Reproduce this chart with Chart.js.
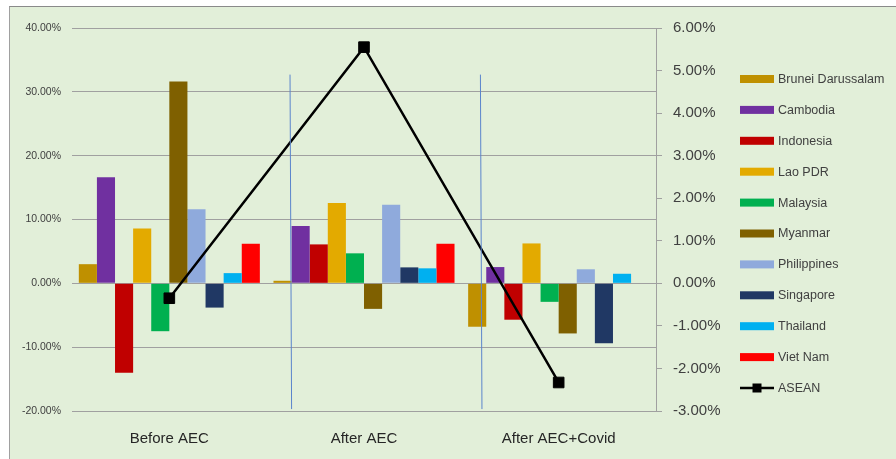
<!DOCTYPE html>
<html>
<head>
<meta charset="utf-8">
<script src="https://cdn.jsdelivr.net/npm/chart.js@4/dist/chart.umd.min.js"></script>
<style>
  html, body { margin: 0; padding: 0; background: #ffffff; }
  #frame {
    position: absolute; left: 9px; top: 6px;
    width: 886px; height: 452px;
    border-top: 1px solid #8a8a8a; border-left: 1px solid #a0a0a0;
    background: #e2efd9;
  }
  canvas { display: block; }
</style>
</head>
<body>
<div id="frame"><canvas id="c" width="886" height="452"></canvas></div>
<script>
// Growth rates by period (%), left axis
const categories = ['Before AEC', 'After AEC', 'After AEC+Covid'];
const brunei      = [3.0, 0.4, -6.8];
const cambodia    = [16.6, 9.0, 2.55];
const indonesia   = [-14.0, 6.1, -5.7];
const laoPdr      = [8.6, 12.6, 6.25];
const malaysia    = [-7.5, 4.7, -2.9];
const myanmar     = [31.6, -4.0, -7.85];
const philippines = [11.6, 12.3, 2.2];
const singapore   = [-3.8, 2.5, -9.4];
const thailand    = [1.6, 2.35, 1.5];
const vietNam     = [6.2, 6.2, null];
// ASEAN aggregate (%), right axis
const asean       = [-0.35, 5.55, -2.33];

// Tick settings
const leftTicks  = { min: -20, max: 40, step: 10 };
const rightTicks = { min: -3, max: 6, step: 1 };

// Period separators (category-scale position at top/bottom, left-axis value range)
const dividerX = [[0.62, 0.628], [1.598, 1.606]];
const dividerY = [32.7, -19.7];

const countries = [
  ['Brunei Darussalam', brunei, '#bf9000'],
  ['Cambodia', cambodia, '#7030a0'],
  ['Indonesia', indonesia, '#c00000'],
  ['Lao PDR', laoPdr, '#e3aa00'],
  ['Malaysia', malaysia, '#00b050'],
  ['Myanmar', myanmar, '#7f6000'],
  ['Philippines', philippines, '#8faadc'],
  ['Singapore', singapore, '#203864'],
  ['Thailand', thailand, '#00b0f0'],
  ['Viet Nam', vietNam, '#ff0000']
];

const datasets = countries.map(([label, data, color]) => ({
  type: 'bar', label, data, backgroundColor: color, borderWidth: 0,
  yAxisID: 'y', order: 1, categoryPercentage: 0.93, barPercentage: 1.0
}));
datasets.push({
  type: 'line', label: 'ASEAN', data: asean, yAxisID: 'y1', order: 0,
  borderColor: '#000000', borderWidth: 2.5, backgroundColor: '#000000',
  pointStyle: 'rect', pointRadius: 7.5, pointBorderWidth: 1, pointBorderColor: '#000000',
  tension: 0, fill: false
});

const textColor = '#404040';

// Thin separator lines between periods
const dividerPlugin = {
  id: 'dividers',
  afterDatasetsDraw(chart) {
    const { ctx, scales } = chart;
    ctx.save();
    ctx.strokeStyle = '#5a84cc';
    ctx.lineWidth = 1;
    dividerX.forEach(([xt, xb]) => {
      ctx.beginPath();
      ctx.moveTo(scales.x.getPixelForValue(xt), scales.y.getPixelForValue(dividerY[0]));
      ctx.lineTo(scales.x.getPixelForValue(xb), scales.y.getPixelForValue(dividerY[1]));
      ctx.stroke();
    });
    ctx.restore();
  }
};

// Legend at the right, one entry per row
const sideLegend = {
  id: 'sideLegend',
  afterDraw(chart) {
    const { ctx } = chart;
    const x0 = 730, boxW = 34, boxH = 8, y0 = 72, step = 30.9;
    ctx.save();
    ctx.font = '12.5px "Liberation Sans", Arial, sans-serif';
    ctx.textBaseline = 'middle';
    ctx.textAlign = 'left';
    chart.data.datasets.forEach((ds, i) => {
      const y = y0 + i * step;
      if (ds.type === 'line') {
        ctx.strokeStyle = ds.borderColor;
        ctx.lineWidth = 2.5;
        ctx.beginPath();
        ctx.moveTo(x0, y); ctx.lineTo(x0 + boxW, y);
        ctx.stroke();
        ctx.fillStyle = ds.backgroundColor;
        ctx.fillRect(x0 + boxW / 2 - 4.5, y - 4.5, 9, 9);
      } else {
        ctx.fillStyle = ds.backgroundColor;
        ctx.fillRect(x0, y - boxH / 2, boxW, boxH);
      }
      ctx.fillStyle = textColor;
      ctx.fillText(ds.label, x0 + boxW + 4, y + 0.5);
    });
    ctx.restore();
  }
};

new Chart(document.getElementById('c'), {
  data: { labels: categories, datasets },
  options: {
    responsive: false,
    animation: false,
    layout: { padding: { left: 0, right: 165, top: 21, bottom: 0 } },
    plugins: { legend: { display: false }, tooltip: { enabled: false } },
    scales: {
      x: {
        type: 'category', offset: true,
        grid: { display: false }, border: { display: false },
        ticks: { color: '#262626', padding: 11, font: { size: 15, family: '"Liberation Sans", Arial, sans-serif' } },
        afterFit(s) { s.height = 48; }
      },
      y: {
        type: 'linear', position: 'left',
        min: leftTicks.min, max: leftTicks.max,
        grid: { color: '#a0a0a0', lineWidth: 1, drawTicks: false },
        border: { display: false },
        ticks: {
          stepSize: leftTicks.step, padding: 11, color: textColor,
          font: { size: 10.5, family: '"Liberation Sans", Arial, sans-serif' },
          callback: v => v.toFixed(2) + '%'
        },
        afterFit(s) { s.width = 62; }
      },
      y1: {
        type: 'linear', position: 'right',
        min: rightTicks.min, max: rightTicks.max,
        grid: { drawOnChartArea: false, drawTicks: true, tickLength: 6, color: '#a0a0a0' },
        border: { display: true, color: '#a0a0a0', width: 1 },
        ticks: {
          stepSize: rightTicks.step, padding: 11, color: textColor,
          font: { size: 15, family: '"Liberation Sans", Arial, sans-serif' },
          callback: v => v.toFixed(2) + '%'
        },
        afterFit(s) { s.width = 75; }
      }
    }
  },
  plugins: [dividerPlugin, sideLegend]
});
</script>
</body>
</html>
